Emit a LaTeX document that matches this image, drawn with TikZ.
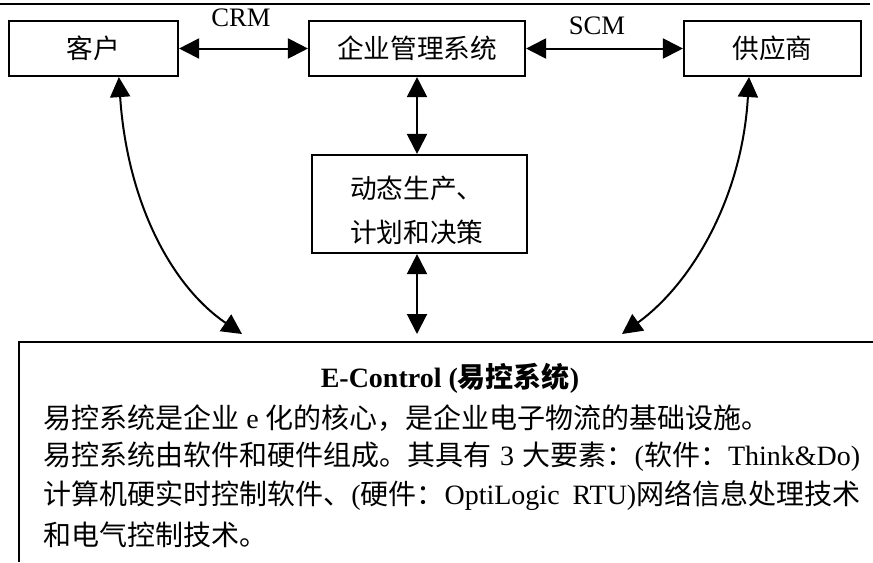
\documentclass[tikz,border=0pt]{standalone}
\usepackage{fontspec}
\setmainfont{Liberation Serif}
\newfontfamily\cjk{Noto Sans CJK SC}
\usetikzlibrary{arrows.meta}
\begin{document}
\begin{tikzpicture}[x=0.75pt,y=-0.75pt,
  box/.style={draw,line width=1.6pt,inner sep=0pt,minimum height=41.25pt,
    font=\fontsize{20}{23}\selectfont},
  conn/.style={line width=1.5pt,
    {Triangle[length=15pt,width=15pt]}-{Triangle[length=15pt,width=15pt]}},
  lbl/.style={inner sep=0pt,font=\fontsize{20}{24}\selectfont},
  body/.style={inner sep=0pt,anchor=west,font=\fontsize{21}{24}\selectfont},
  frame/.style={line width=2pt}]
\useasboundingbox (0,0) rectangle (873,562);
% page rule
\draw[frame] (0,4) -- (870,4);
% boxes
\node[box,minimum width=126.75pt] (kehu) at (93.5,48.5) {\cjk 客户};
\node[box,minimum width=162pt] (qiye) at (417,48.5) {\cjk 企业管理系统};
\node[box,minimum width=132.75pt] (gys) at (772.5,48.5) {\cjk 供应商};
\node[box,minimum width=161.25pt,minimum height=73.5pt] (dt) at (419.5,204) {};
\node[lbl,anchor=west,align=left,font=\fontsize{20}{33}\selectfont] (dttext) at (350,210)
  {\cjk 动态生产、\\\cjk 计划和决策};
% labels
\node[lbl] (crm) at (241,18) {CRM};
\node[lbl] (scm) at (597,26) {SCM};
% free ends above the bottom box
\coordinate (cL) at (242,334);
\coordinate (cM) at (417,334);
\coordinate (cR) at (622,334);
% connectors
\draw[conn] (kehu.east) -- (qiye.west);
\draw[conn] (qiye.east) -- (gys.west);
\draw[conn] (qiye.south) -- (qiye.south |- dt.north);
\draw[conn] (dt.south -| qiye.south) -- (cM);
\draw[conn] ([xshift=19pt]kehu.south) .. controls (127,200) and (170,285) .. (cL);
\draw[conn] ([xshift=-17.6pt]gys.south) .. controls (742,200) and (690,285) .. (cR);
% bottom box
\draw[frame] (873,342) -- (19,342) -- (19,562);
\node[lbl,font=\fontsize{21}{24}\selectfont\bfseries] (title) at (450,378)
  {E-Control ({\cjk 易控系统})};
\node[body] (l1) at (43,418) {{\cjk 易控系统是企业} e {\cjk 化的核心，是企业电子物流的基础设施。}};
\node[body] (l2) at (43,457) {\makebox[612.75pt][s]{{\cjk 易控系统由软件和硬件组成。其具有} 3 {\cjk 大要素：}({\cjk 软件：}Think\&Do)}};
\node[body] (l3) at (43,496) {\makebox[612.75pt][s]{{\cjk 计算机硬实时控制软件、}({\cjk 硬件：}OptiLogic RTU){\cjk 网络信息处理技术}}};
\node[body] (l4) at (43,535) {{\cjk 和电气控制技术。}};
\end{tikzpicture}
\end{document}
